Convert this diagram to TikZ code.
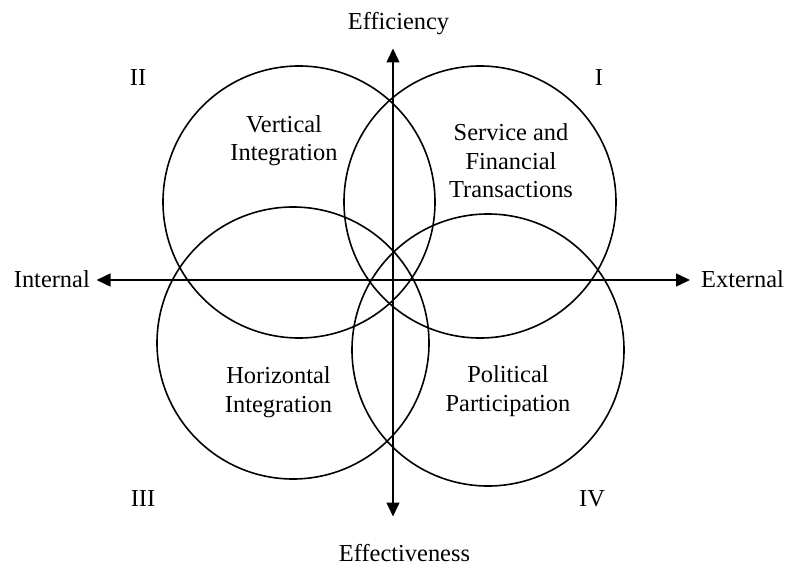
\documentclass[tikz,border=0pt]{standalone}
\usepackage{fontspec}
\setmainfont{Liberation Serif}
\usetikzlibrary{arrows.meta}
\begin{document}
\begin{tikzpicture}[x=1bp,y=-1bp,
  ring/.style={draw=black,line width=1.6bp},
  axis/.style={draw=black,line width=1.5bp,{Triangle[length=14bp,width=13bp]}-{Triangle[length=14bp,width=13bp]}},
  lbl/.style={inner sep=0pt,font=\fontsize{24.5}{29}\selectfont,align=center}]
\useasboundingbox (0,0) rectangle (787,567);
% circles
\draw[ring] (299,202) circle[radius=136bp];
\draw[ring] (480,202) circle[radius=136bp];
\draw[ring] (293,343) circle[radius=136bp];
\draw[ring] (488,350) circle[radius=136bp];
% axis ends
\coordinate (top) at (393,48.5);
\coordinate (bot) at (393,516.5);
\coordinate (lft) at (96.5,280);
\coordinate (rgt) at (690,280);
\draw[axis] (top) -- (bot);
\draw[axis] (lft) -- (rgt);
% axis labels
\node[lbl,anchor=base] (eff) at (398.5,29.3) {Efficiency};
\node[lbl,anchor=base] (effv) at (404.5,561.7) {Effectiveness};
\node[lbl,anchor=base east] (int) at (90,287.3) {Internal};
\node[lbl,anchor=base west] (ext) at (701,287.3) {External};
% quadrant numerals
\node[lbl,anchor=base] (q2) at (138,86) {II};
\node[lbl,anchor=base] (q1) at (599,86) {I};
\node[lbl,anchor=base] (q3) at (143,506) {III};
\node[lbl,anchor=base] (q4) at (592,506) {IV};
% circle labels
\node[lbl,anchor=base] (vi) at (284,161) {Vertical\\Integration};
\node[lbl,anchor=base] (sf) at (511,198) {Service and\\Financial\\Transactions};
\node[lbl,anchor=base] (hi) at (278.5,412.7) {Horizontal\\Integration};
\node[lbl,anchor=base] (pp) at (508,411.7) {Political\\Participation};
\end{tikzpicture}
\end{document}
